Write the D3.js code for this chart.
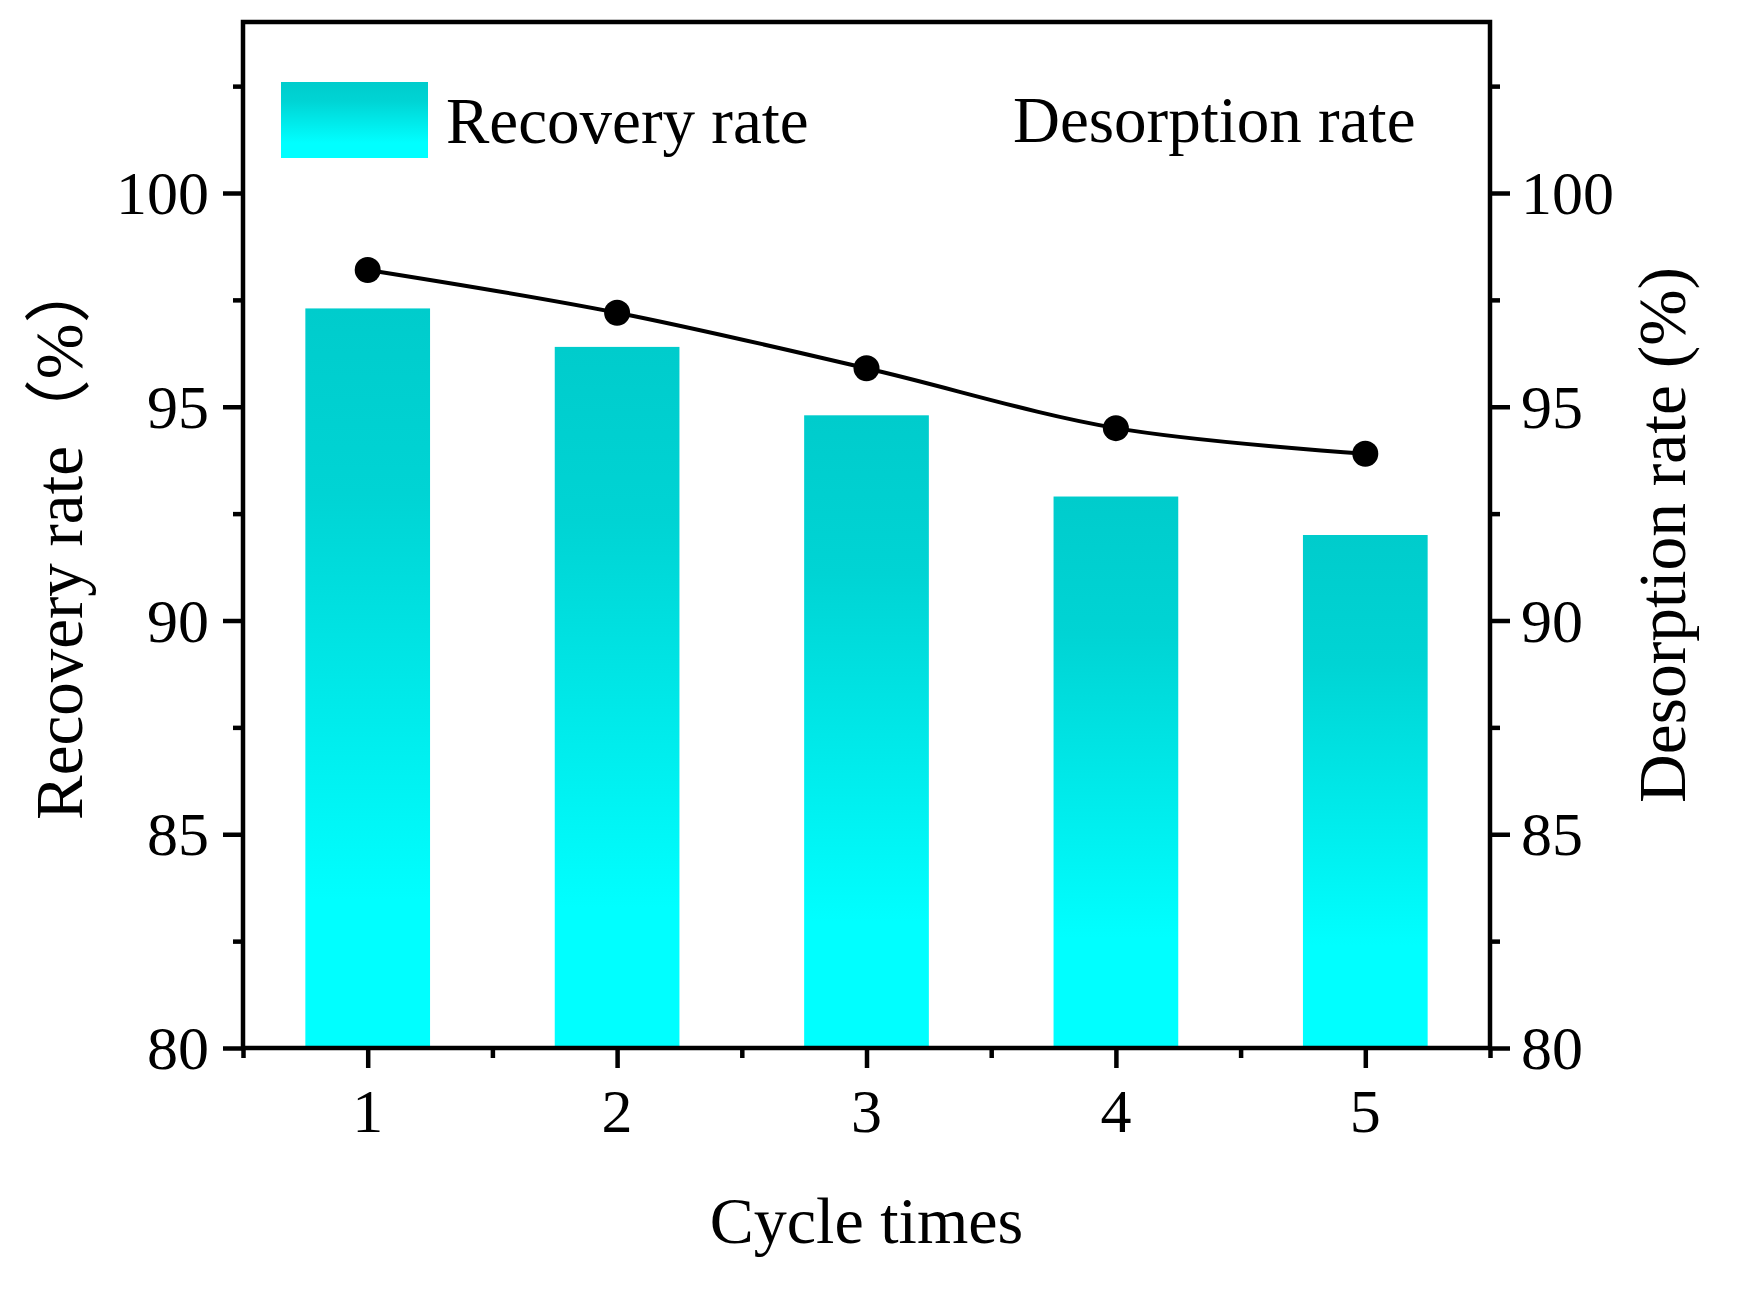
<!DOCTYPE html>
<html>
<head>
<meta charset="utf-8">
<script src="https://cdn.jsdelivr.net/npm/d3@7"></script>
<style>
  html, body { margin: 0; padding: 0; background: #fff; }
  svg text { font-family: "Liberation Serif", "Times New Roman", "Noto Sans CJK SC", serif; fill: #000; }
</style>
</head>
<body>
<svg id="chart" width="1738" height="1290"></svg>
<script>
// data
const cycles = [1, 2, 3, 4, 5];
const recoveryRate = [97.3, 96.4, 94.8, 92.9, 92.0];
const desorptionRate = [98.2, 97.2, 95.9, 94.5, 93.9];
const yMajorTicks = [80, 85, 90, 95, 100];
const yMinorTicks = [82.5, 87.5, 92.5, 97.5, 102.5];
const xMinorTicks = [0.5, 1.5, 2.5, 3.5, 4.5, 5.5];

const svg = d3.select('#chart');

// plot frame (pixel edges)
const plotLeft = 243, plotRight = 1490, plotTop = 22, plotBottom = 1048;

const x = d3.scaleLinear().domain([0.5, 5.5]).range([plotLeft, plotRight]);
const yL = d3.scaleLinear().domain([80, 104]).range([plotBottom, plotTop]);
const yR = d3.scaleLinear().domain([80, 104]).range([plotBottom, plotTop]);

// --- gradient for bars + legend swatch ---
const defs = svg.append('defs');
const grad = defs.append('linearGradient')
  .attr('id', 'barGrad')
  .attr('x1', 0).attr('y1', 0).attr('x2', 0).attr('y2', 1);
grad.append('stop').attr('offset', 0).attr('stop-color', '#00cccc');
grad.append('stop').attr('offset', 0.25).attr('stop-color', '#00d4d4');
grad.append('stop').attr('offset', 0.8).attr('stop-color', '#00ffff');
grad.append('stop').attr('offset', 1).attr('stop-color', '#00ffff');

// --- bars ---
const barW = x(1.25) - x(0.75);
svg.append('g')
  .selectAll('rect')
  .data(cycles)
  .join('rect')
  .attr('x', (d) => x(d) - barW / 2)
  .attr('y', (d, i) => yL(recoveryRate[i]))
  .attr('width', barW)
  .attr('height', (d, i) => yL(80) - yL(recoveryRate[i]))
  .attr('fill', 'url(#barGrad)');

// --- line + dots ---
const line = d3.line()
  .x((d) => x(d[0]))
  .y((d) => yR(d[1]))
  .curve(d3.curveCatmullRom.alpha(0.5));

const pts = cycles.map((c, i) => [c, desorptionRate[i]]);

svg.append('path')
  .datum(pts)
  .attr('d', line)
  .attr('fill', 'none')
  .attr('stroke', '#000')
  .attr('stroke-width', 4);

svg.append('g')
  .selectAll('circle')
  .data(pts)
  .join('circle')
  .attr('cx', (d) => x(d[0]))
  .attr('cy', (d) => yR(d[1]))
  .attr('r', 13)
  .attr('fill', '#000');

// --- axes (ticks only, frame drawn as a rect) ---
function styleAxis(g) {
  g.select('.domain').remove();
  g.selectAll('.tick line').attr('stroke', '#000').attr('stroke-width', 4.5);
  g.selectAll('.tick text').remove();
}

svg.append('g').attr('transform', `translate(${plotLeft},0)`)
  .call(d3.axisLeft(yL).tickValues(yMajorTicks).tickSize(20)).call(styleAxis);
svg.append('g').attr('transform', `translate(${plotLeft},0)`)
  .call(d3.axisLeft(yL).tickValues(yMinorTicks).tickSize(10)).call(styleAxis);

svg.append('g').attr('transform', `translate(${plotRight},0)`)
  .call(d3.axisRight(yR).tickValues(yMajorTicks).tickSize(20)).call(styleAxis);
svg.append('g').attr('transform', `translate(${plotRight},0)`)
  .call(d3.axisRight(yR).tickValues(yMinorTicks).tickSize(10)).call(styleAxis);

svg.append('g').attr('transform', `translate(0,${plotBottom})`)
  .call(d3.axisBottom(x).tickValues(cycles).tickSize(20)).call(styleAxis);
svg.append('g').attr('transform', `translate(0,${plotBottom})`)
  .call(d3.axisBottom(x).tickValues(xMinorTicks).tickSize(10)).call(styleAxis);

svg.append('rect')
  .attr('x', plotLeft).attr('y', plotTop)
  .attr('width', plotRight - plotLeft).attr('height', plotBottom - plotTop)
  .attr('fill', 'none')
  .attr('stroke', '#000')
  .attr('stroke-width', 4.5);

// tick labels
svg.append('g')
  .selectAll('text')
  .data(yMajorTicks)
  .join('text')
  .attr('x', 209)
  .attr('y', (d) => yL(d) + 21)
  .attr('text-anchor', 'end')
  .attr('font-size', 62)
  .text((d) => d);

svg.append('g')
  .selectAll('text')
  .data(yMajorTicks)
  .join('text')
  .attr('x', 1521)
  .attr('y', (d) => yR(d) + 21)
  .attr('font-size', 62)
  .text((d) => d);

svg.append('g')
  .selectAll('text')
  .data(cycles)
  .join('text')
  .attr('x', (d) => x(d))
  .attr('y', 1132)
  .attr('text-anchor', 'middle')
  .attr('font-size', 62)
  .text((d) => d);

// axis titles
svg.append('text')
  .attr('x', (plotLeft + plotRight) / 2)
  .attr('y', 1243)
  .attr('text-anchor', 'middle')
  .attr('font-size', 66)
  .text('Cycle times');

svg.append('text')
  .attr('transform', 'translate(82,820) rotate(-90)')
  .attr('font-size', 67)
  .text('Recovery rate（%）');

svg.append('text')
  .attr('transform', 'translate(1685,803) rotate(-90)')
  .attr('font-size', 67.5)
  .text('Desorption rate (%)');

// legend
svg.append('rect')
  .attr('x', 281).attr('y', 82)
  .attr('width', 147).attr('height', 76)
  .attr('fill', 'url(#barGrad)');

svg.append('text')
  .attr('x', 446).attr('y', 143)
  .attr('font-size', 65)
  .text('Recovery rate');

svg.append('text')
  .attr('x', 1013).attr('y', 142)
  .attr('font-size', 65)
  .text('Desorption rate');
</script>
</body>
</html>
